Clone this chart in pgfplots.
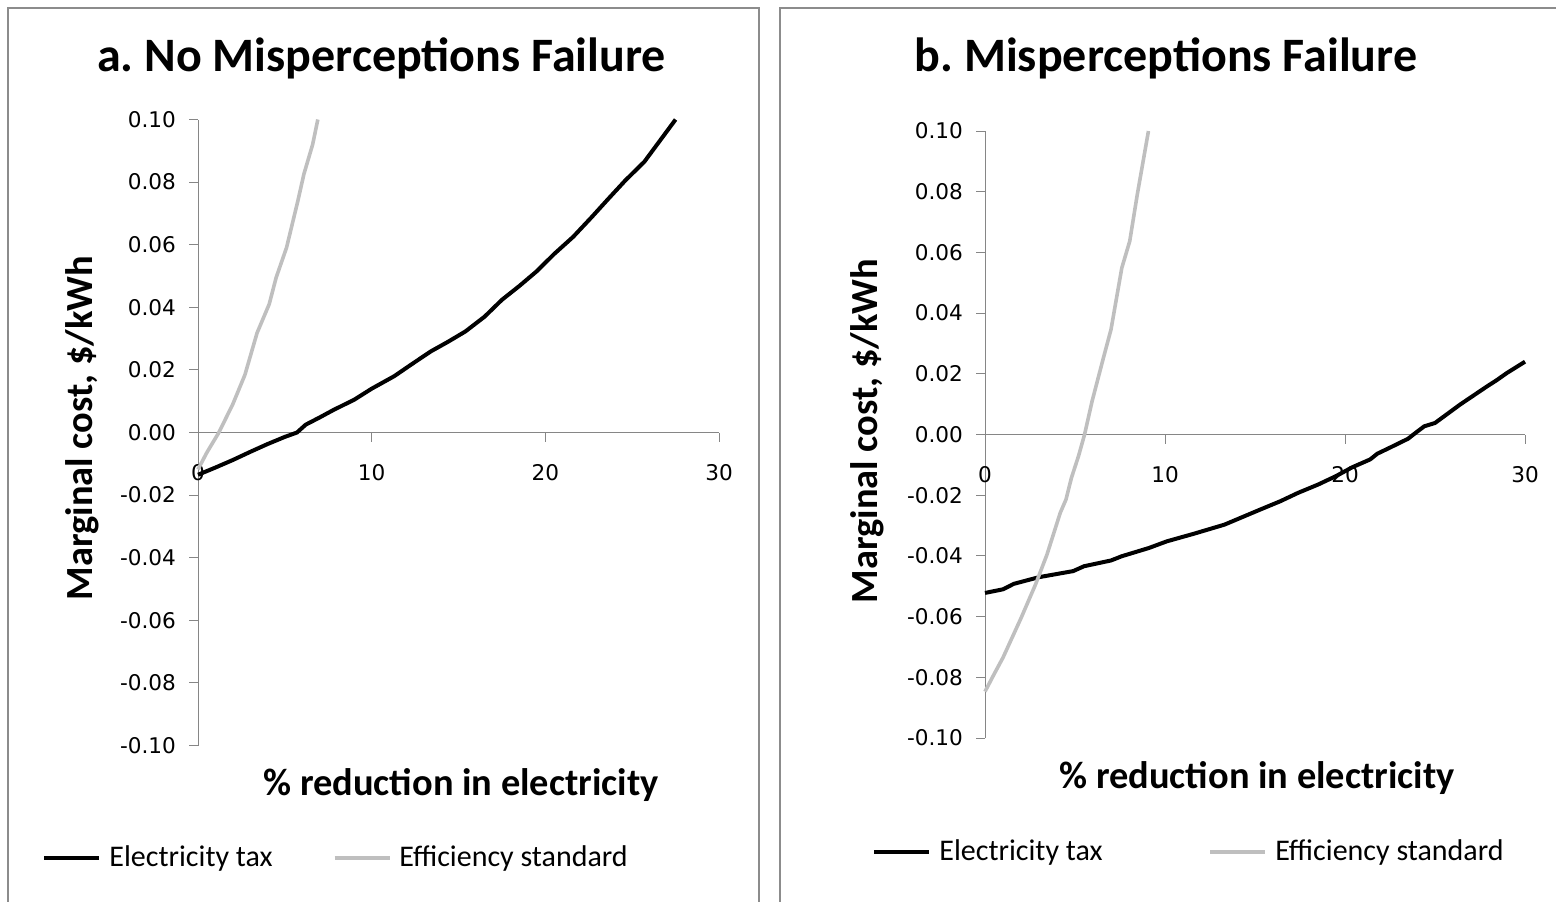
\documentclass[border=0pt]{standalone}
\usepackage{pgfplots}
\pgfplotsset{compat=1.18}
\usepackage{pgfplotstable}
\usepackage{fontspec}
\setmainfont{Carlito}
\newfontfamily\tickfont{DejaVu Sans}
\definecolor{axgray}{RGB}{134,134,134}
\definecolor{lgray}{RGB}{191,191,191}
\definecolor{framegray}{RGB}{140,140,140}
\frenchspacing

\pgfplotstableread{
x y
0 -0.0135
1 -0.0112
2 -0.0088
3 -0.0062
4 -0.0037
5 -0.0014
5.7 0.0000
6.2 0.0025
7 0.0048
7.8 0.0072
9 0.0105
10 0.0140
11.3 0.0180
12.3 0.0218
13.4 0.0259
14.4 0.0290
15.4 0.0323
16.5 0.0370
17.5 0.0424
18.5 0.0468
19.5 0.0515
20.5 0.0570
21.6 0.0625
22.7 0.0690
23.6 0.0745
24.6 0.0805
25.7 0.0865
26.7 0.0940
27.5 0.1000
}\taxa

\pgfplotstableread{
x y
0 -0.0118
0.5 -0.0065
1.2 0.0000
2.0 0.0090
2.7 0.0184
3.4 0.0318
4.1 0.0410
4.5 0.0495
5.1 0.0591
5.75 0.0740
6.1 0.0826
6.6 0.0920
6.9 0.1000
}\stda

\pgfplotstableread{
x y
0 -0.0522
1 -0.0510
1.6 -0.0492
3 -0.0470
4.9 -0.0450
5.5 -0.0434
7 -0.0415
7.6 -0.0401
9.1 -0.0374
10.1 -0.0352
11.6 -0.0327
13.3 -0.0297
14.1 -0.0277
15.3 -0.0247
16.4 -0.0220
17.4 -0.0192
18.5 -0.0165
19.5 -0.0137
20.4 -0.0108
21.4 -0.0082
21.8 -0.0063
22.4 -0.0046
23.5 -0.0014
23.8 0.0000
24.4 0.0027
25.0 0.0038
26.4 0.0099
27.9 0.0159
28.4 0.0178
29.0 0.0203
30.0 0.0240
}\taxb

\pgfplotstableread{
x y
0 -0.0847
0.5 -0.0790
1.0 -0.0735
1.5 -0.0670
2.0 -0.0605
2.8 -0.0495
3.44 -0.0396
4.18 -0.0258
4.5 -0.0214
4.8 -0.0143
5.2 -0.0070
5.53 0.0000
5.95 0.0110
6.58 0.0253
7.0 0.0346
7.6 0.0549
8.04 0.0637
8.46 0.0791
9.08 0.1000
}\stdb

\pgfplotsset{
  panel/.style={
    scale only axis,
    anchor=south west,
    xmin=0, xmax=30, ymin=-0.1, ymax=0.1,
    axis x line=middle, axis y line=left,
    axis line style={axgray, line width=0.5pt, -},
    every inner x axis line/.append style={-},
    every outer y axis line/.append style={-},
    xtick={0,10,20,30}, xticklabels={0,10,20,30},
    ytick={-0.1,-0.08,-0.06,-0.04,-0.02,0,0.02,0.04,0.06,0.08,0.1},
    yticklabels={-0.10,-0.08,-0.06,-0.04,-0.02,0.00,0.02,0.04,0.06,0.08,0.10},
    tick style={axgray, line width=0.5pt},
    major tick length=4.5pt,
    tick align=outside,
    hide obscured x ticks=false, hide obscured y ticks=false,
    ticklabel style={font=\tickfont\fontsize{10.8}{12}\selectfont, text=black},
    xticklabel style={anchor=north, yshift=-8pt},
    yticklabel style={anchor=east, xshift=-3pt},
    clip=false,
    legend columns=2,
    legend cell align=left,
    legend image code/.code={\draw[##1] (0pt,0pt) -- (27.5pt,0pt);},
  }
}

\begin{document}
\begin{tikzpicture}[x=0.5pt,y=-0.5pt]
\path[use as bounding box] (0,0) rectangle (1556,901);
\draw[framegray, line width=0.6pt] (8,910) -- (8,8) -- (759,8) -- (759,910);
\draw[framegray, line width=0.6pt] (780,910) -- (780,8) -- (1570,8);
\coordinate (A) at (198,745.5);
\coordinate (B) at (985,738);

\begin{axis}[panel, at={(A)}, width=260.5pt, height=313pt,
  legend style={draw=none, fill=none, inner sep=0pt,
    at={(-0.2994,-0.1797)}, anchor=west,
    font=\fontsize{15}{18}\selectfont,
    nodes={inner sep=0pt},
    /tikz/every odd column/.append style={column sep=4pt},
    /tikz/every even column/.append style={column sep=30pt}}]
\addplot[black, line width=2pt] table[x=x,y=y] {\taxa};
\addlegendentry{Electricity tax}
\addplot[lgray, line width=1.8pt] table[x=x,y=y] {\stda};
\addlegendentry{Efficiency standard}
\end{axis}

\begin{axis}[panel, at={(B)}, width=270pt, height=303.5pt,
  legend style={draw=none, fill=none, inner sep=0pt,
    at={(-0.2093,-0.1878)}, anchor=west,
    font=\fontsize{15}{18}\selectfont,
    nodes={inner sep=0pt},
    /tikz/every odd column/.append style={column sep=4pt},
    /tikz/every even column/.append style={column sep=53pt}}]
\addplot[black, line width=2pt] table[x=x,y=y] {\taxb};
\addlegendentry{Electricity tax}
\addplot[lgray, line width=1.8pt] table[x=x,y=y] {\stdb};
\addlegendentry{Efficiency standard}
\end{axis}

\node[font=\bfseries\fontsize{24}{28}\selectfont] at (381.5,58) {a. No Misperceptions Failure};
\node[font=\bfseries\fontsize{24}{28}\selectfont] at (1166,58) {b. Misperceptions Failure};
\node[font=\bfseries\fontsize{19.2}{23}\selectfont, rotate=90] at (82,428) {Marginal cost, \$/kWh};
\node[font=\bfseries\fontsize{19.2}{23}\selectfont, rotate=90] at (867,431) {Marginal cost, \$/kWh};
\node[font=\bfseries\fontsize{19.2}{23}\selectfont] at (461,785) {\% reduction in electricity};
\node[font=\bfseries\fontsize{19.2}{23}\selectfont] at (1257,778) {\% reduction in electricity};
\end{tikzpicture}
\end{document}
